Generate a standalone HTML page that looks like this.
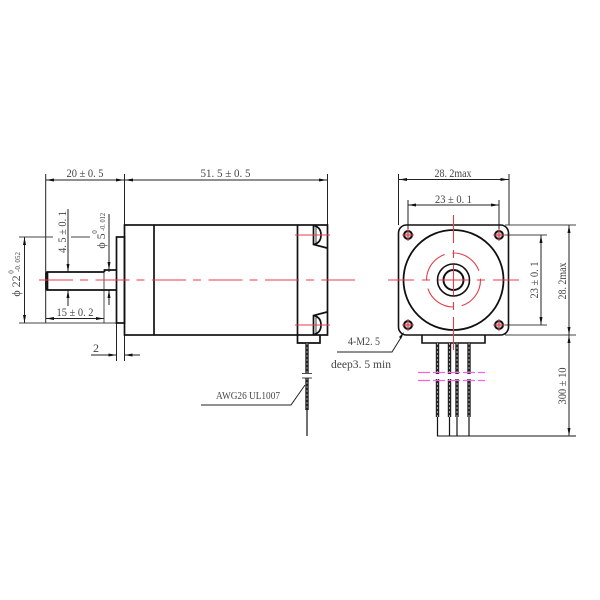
<!DOCTYPE html>
<html><head><meta charset="utf-8"><style>
html,body{margin:0;padding:0;background:#fff}
svg{display:block;filter:blur(0.35px)}
text{font-family:"Liberation Serif",serif;font-size:12px;fill:#444;text-anchor:middle}
</style></head><body>
<svg width="600" height="600" viewBox="0 0 600 600" xmlns="http://www.w3.org/2000/svg">
<defs>
<marker id="a" viewBox="0 0 8 3" refX="8" refY="1.500" markerWidth="8" markerHeight="3" orient="auto-start-reverse" markerUnits="userSpaceOnUse"><path d="M0 0L8 1.500L0 3Z" fill="#111"/></marker>
</defs>
<rect width="600" height="600" fill="#fff"/>
<g stroke="#222" stroke-width="1" fill="none">
<path d="M45.700 174V323M124.500 174V225M327.500 174V225"/>
<path d="M46 180H124" marker-start="url(#a)" marker-end="url(#a)"/>
<path d="M125 180H327" marker-start="url(#a)" marker-end="url(#a)"/>
<path d="M19 237H53M71 237H90M116 237H124M19 323H116" stroke="#444"/>
<path d="M24.500 237V323" marker-start="url(#a)" marker-end="url(#a)"/>
<path d="M68 209V268M68 293V306"/>
<path d="M68 260V272" marker-end="url(#a)"/><path d="M68 302V290" marker-end="url(#a)"/>
<path d="M109 214V272M109 290V305"/>
<path d="M109 262V270" marker-end="url(#a)"/><path d="M109 299V290" marker-end="url(#a)"/>
<path d="M104 270V323" stroke-width="0.800"/>
<path d="M46 318.500H104" marker-start="url(#a)" marker-end="url(#a)"/>
<path d="M116.500 323V361M124.500 335V361"/>
<path d="M91 355H116.500" marker-end="url(#a)"/><path d="M140 355H124.500" marker-end="url(#a)"/>
<path d="M201 405H291L305 385"/>
<path d="M398.500 174V225M509 174V225"/>
<path d="M399 179.500H508.500" marker-start="url(#a)" marker-end="url(#a)"/>
<path d="M408 200V232M499 200V232"/>
<path d="M408 205H499" marker-start="url(#a)" marker-end="url(#a)"/>
<path d="M500 235H547M505 325H547M505 225H576M505 335H576" stroke="#444"/>
<path d="M541 235V325" marker-start="url(#a)" marker-end="url(#a)"/>
<path d="M569 225V335" marker-start="url(#a)" marker-end="url(#a)"/>
<path d="M569 335V436" marker-start="url(#a)" marker-end="url(#a)"/>
<path d="M437 436H576" stroke="#444" stroke-width="1.200"/>
<path d="M337 352H392L402 336"/>
</g>
<path d="M404 332L399 337L401 339Z" fill="#111"/>
<g stroke="#111" stroke-width="1.700" fill="none">
<rect x="124.500" y="225" width="203" height="110"/>
<path d="M154 225V335M297.500 225V335"/>
<rect x="116.500" y="237" width="8" height="86"/>
<path d="M116.500 270H104.500V272M104.500 272H47.500Q46 272 46 273.500V288.500Q46 290 47.500 290H116.500"/>
<path d="M47.500 272V290"/>
<path d="M297.500 335V343H320V335"/>
<path d="M313.500 225.500V244.500L327 248M313.500 334.500V315.500L327 312"/>
<path d="M313.500 225.500Q321 227 321 235Q321 243 313.500 244.500M313.500 315.500Q321 317 321 325Q321 333 313.500 334.500"/>
<path d="M316 227V243M316 317V333" stroke-width="0.800"/>
<path d="M307 343V373M307 378V410" stroke-width="3.400" stroke="#222"/>
<path d="M307 343V373M307 378V410" stroke-width="1" stroke="#999" stroke-dasharray="2 2"/>
<path d="M307 410V436" stroke-width="1.200"/>
<path d="M302 373.500H312M302 378H312" stroke-width="0.800"/>
</g>
<g stroke="#111" fill="none">
<rect x="398.500" y="225" width="110" height="110" rx="8" stroke-width="1.600"/>
<circle cx="453.500" cy="280" r="50" stroke-width="1.800"/>
<circle cx="453.500" cy="280" r="16" stroke-width="1.600"/>
<circle cx="453.500" cy="280" r="10" stroke-width="2"/>
<g stroke-width="2" fill="#ccc">
<circle cx="408" cy="235" r="4"/><circle cx="499" cy="235" r="4"/><circle cx="408" cy="325" r="4"/><circle cx="499" cy="325" r="4"/>
</g>
<path d="M422 335V343H485V335" stroke-width="1.600"/>
<path d="M437.500 343V417M449.500 343V417M457 343V417M469 343V417" stroke-width="3.400" stroke="#222"/>
<path d="M437.500 343V417M449.500 343V417M457 343V417M469 343V417" stroke-width="1" stroke="#aaa" stroke-dasharray="2 2"/>
<path d="M437.500 417V436M449.500 417V436M457 417V436M469 417V436" stroke-width="1.200"/>
</g>
<rect x="430" y="374" width="45" height="5" fill="#fff"/>
<g stroke="#e63c48" stroke-width="1.100" fill="none">
<path d="M39 280H355" stroke-dasharray="34 7 8 7.500"/>
<path d="M295 235H330M295 325H330"/>
<path d="M388 280H414M422 280H430M438 280H469M477 280H485M493 280H519"/>
<path d="M453.500 215V243M453.500 250V258M453.500 265V295M453.500 302V310M453.500 317V350" />
<circle cx="453.500" cy="280" r="27" stroke-dasharray="34 8"/>
<path d="M402 235H414M408 229V241M493 235H505M499 229V241M402 325H414M408 319V331M493 325H505M499 319V331"/>
</g>
<g stroke="#ee66e0" stroke-width="1.200" fill="none">
<path d="M418 372.500H485M418 380.500H485" stroke-dasharray="12 3"/>
</g>
<text x="85" y="177" textLength="37" lengthAdjust="spacingAndGlyphs">20 ± 0. 5</text>
<text x="225.500" y="177" textLength="50" lengthAdjust="spacingAndGlyphs">51. 5 ± 0. 5</text>
<text x="453" y="177" textLength="37" lengthAdjust="spacingAndGlyphs">28. 2max</text>
<text x="453.500" y="203" textLength="37" lengthAdjust="spacingAndGlyphs">23 ± 0. 1</text>
<text x="75" y="316" textLength="37" lengthAdjust="spacingAndGlyphs">15 ± 0. 2</text>
<text x="96" y="352">2</text>
<text transform="translate(66,232) rotate(-90)" textLength="42" lengthAdjust="spacingAndGlyphs">4. 5 ± 0. 1</text>
<text transform="translate(20,286) rotate(-90)">ϕ 22</text>
<text transform="translate(13.500,272) rotate(-90)" style="font-size:7px">0</text>
<text transform="translate(20,262) rotate(-90)" style="font-size:7px" textLength="20" lengthAdjust="spacingAndGlyphs">-0. 052</text>
<text transform="translate(105,241) rotate(-90)">ϕ 5</text>
<text transform="translate(97,232) rotate(-90)" style="font-size:7px">0</text>
<text transform="translate(105,222) rotate(-90)" style="font-size:7px" textLength="18" lengthAdjust="spacingAndGlyphs">-0. 012</text>
<text transform="translate(538,280) rotate(-90)" textLength="37" lengthAdjust="spacingAndGlyphs">23 ± 0. 1</text>
<text transform="translate(566,281) rotate(-90)" textLength="37" lengthAdjust="spacingAndGlyphs">28. 2max</text>
<text transform="translate(566,386) rotate(-90)" textLength="37" lengthAdjust="spacingAndGlyphs">300 ± 10</text>
<text x="248" y="399" textLength="64" lengthAdjust="spacingAndGlyphs" style="font-size:11px">AWG26 UL1007</text>
<text x="364" y="345" textLength="32" lengthAdjust="spacingAndGlyphs">4-M2. 5</text>
<text x="361" y="368" textLength="60" lengthAdjust="spacingAndGlyphs">deep3. 5 min</text>
</svg>
</body></html>
